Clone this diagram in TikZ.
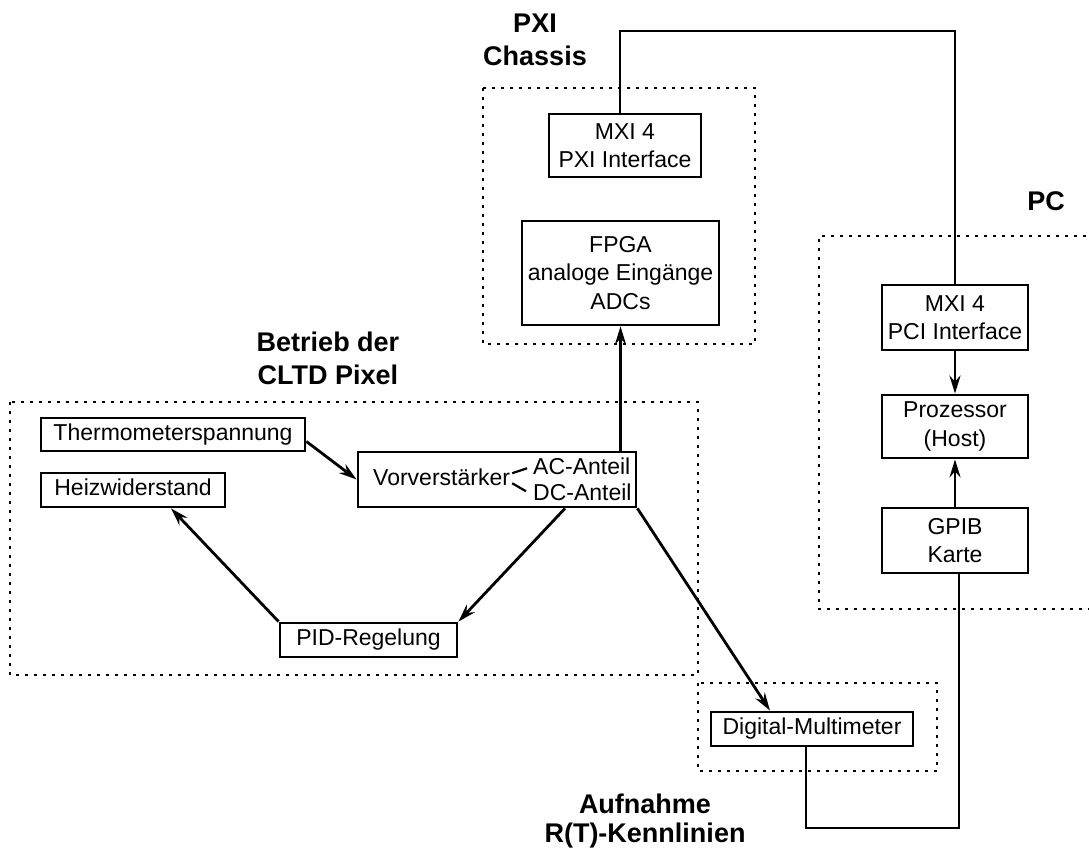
\documentclass[tikz,border=0pt]{standalone}
\usepackage{fontspec}
\setmainfont{Liberation Sans}
\usetikzlibrary{arrows.meta}
\begin{document}
\begin{tikzpicture}[x=1pt,y=-1pt,
  every node/.style={font=\fontsize{23}{28.5}\selectfont, inner sep=0pt},
  box/.style={draw, line width=2.8pt, align=center},
  sbox/.style={box, text height=17.25pt, text depth=5.75pt},
  lbl/.style={font=\fontsize{27}{33}\selectfont\bfseries, align=center},
  txt/.style={text height=17.25pt, text depth=5.75pt, anchor=base west},
  grp/.style={line width=2.7pt, dash pattern=on 2.7pt off 6.3pt},
  con/.style={line width=2.8pt},
  arr/.style={con, -{Stealth[length=18pt,width=11pt,inset=6pt]}}
]
\useasboundingbox (0,0) rectangle (1089,850);

% group frames
\draw[grp] (483,88) rectangle (755,344);
\draw[grp] (1095,236) -- (819,236) -- (819,609) -- (1095,609);
\draw[grp] (10,402) rectangle (698,675);
\draw[grp] (698,683) rectangle (937,771);

% group labels
\node[lbl, anchor=north] (lpxi) at (535,14) {PXI\\Chassis};
\node[lbl, anchor=north] (lcltd) at (328,332) {Betrieb der\\CLTD Pixel};
\node[lbl, anchor=north, font=\fontsize{27}{29}\selectfont\bfseries] (lauf) at (645,794) {Aufnahme\\R(T)-Kennlinien};
\node[lbl, anchor=base] (lpc) at (1046,211) {PC};

% boxes
\node[box, minimum width=152pt, minimum height=63pt] (mxipxi) at (625,145.5) {MXI 4\\PXI Interface};
\node[box, minimum width=197pt, minimum height=104pt] (fpga) at (620.5,273) {FPGA\\analoge Eingänge\\ADCs};
\node[box, minimum width=146pt, minimum height=65pt] (mxipci) at (955,317.5) {MXI 4\\PCI Interface};
\node[box, minimum width=146pt, minimum height=63pt] (proz) at (955,426.5) {Prozessor\\(Host)};
\node[box, minimum width=146pt, minimum height=65pt] (gpib) at (955,540.5) {GPIB\\Karte};
\node[sbox, minimum width=264pt, minimum height=33pt] (thermo) at (173,434.5) {Thermometerspannung};
\node[sbox, minimum width=184pt, minimum height=34pt] (heiz) at (133,490) {Heizwiderstand};
\node[box, minimum width=278pt, minimum height=55pt] (vorv) at (497,479.5) {};
\node[sbox, minimum width=177pt, minimum height=34pt] (pid) at (368.5,640) {PID-Regelung};
\node[sbox, minimum width=202pt, minimum height=34pt] (dmm) at (812,729) {Digital-Multimeter};

% texts inside the preamplifier box
\node[txt] (vtext) at (373,485) {Vorverstärker};
\node[txt] (ac) at (533,474) {AC-Anteil};
\node[txt] (dc) at (533,500) {DC-Anteil};
\draw[line width=2.2pt] ([xshift=2pt,yshift=6pt]vtext.east) -- ([xshift=-6pt]ac.west);
\draw[line width=2.2pt] ([xshift=2pt,yshift=-4pt]vtext.east) -- ([xshift=-7pt,yshift=3pt]dc.west);

% connectors
\coordinate (topline) at (0,31);
\coordinate (botline) at (0,828);
\draw[con] ([xshift=-5pt]mxipxi.north) |- (topline -| mxipci.north) -- (mxipci.north);
\draw[arr] (mxipci) -- (proz);
\draw[arr] (gpib) -- (proz);
\draw[con] ([xshift=4pt]gpib.south) -- ([xshift=4pt]gpib.south |- botline) -| ([xshift=-6pt]dmm.south);
\draw[arr] (fpga.south |- vorv.north) -- (fpga.south);
\draw[arr] (thermo.-3.7) -- (vorv.west);
\draw[arr] ([xshift=68pt]vorv.south) -- (pid.north east);
\draw[arr] (pid.north west) -- ([xshift=38pt]heiz.south);
\draw[arr] (vorv.south east) -- ([xshift=-42pt]dmm.north);
\end{tikzpicture}
\end{document}
